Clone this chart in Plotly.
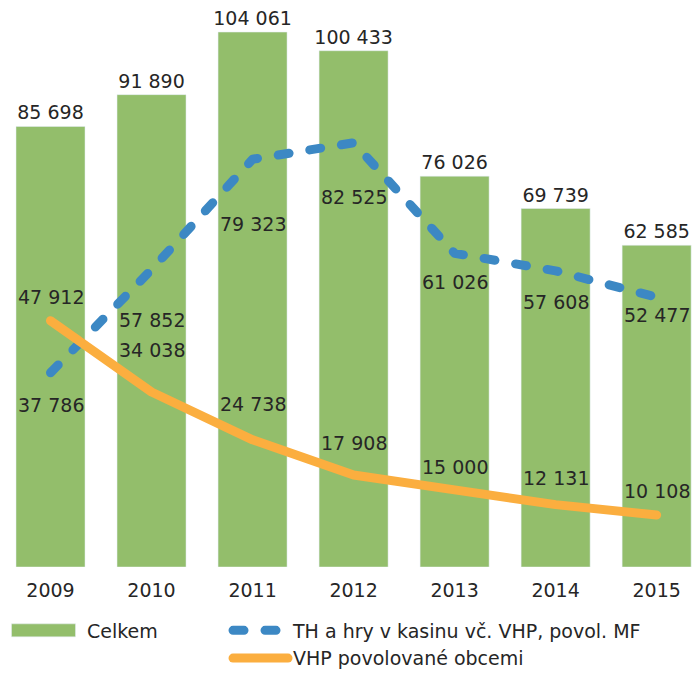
import plotly.graph_objects as go

years = ["2009", "2010", "2011", "2012", "2013", "2014", "2015"]
celkem = [85698, 91890, 104061, 100433, 76026, 69739, 62585]
th_kasino = [37786, 57852, 79323, 82525, 61026, 57608, 52477]
vhp_obce = [47912, 34038, 24738, 17908, 15000, 12131, 10108]

name_celkem = "Celkem"
name_th = "TH a hry v kasinu vč. VHP, povol. MF"
name_vhp = "VHP povolované obcemi"

# label pixel offsets (style)
th_shift = [-32, -50, -65, -54, -29, -31, -18]
vhp_shift = [24, 42, 36, 32, 23, 27, 24]

GREEN = "#93BE6B"
BLUE = "#3C88C4"
ORANGE = "#FBAE3F"
TXT = "#262626"
FONT = "DejaVu Sans"

def fmt(v):
    return f"{v:,}".replace(",", " ")

fig = go.Figure()
fig.add_trace(go.Bar(
    x=years, y=celkem, name=name_celkem, marker_color=GREEN,
    text=[fmt(v) for v in celkem], textposition="outside",
    textfont=dict(family=FONT, size=19, color=TXT),
    constraintext="none", cliponaxis=False, legend="legend",
))
fig.add_trace(go.Scatter(
    x=years, y=th_kasino, name=name_th, mode="lines",
    line=dict(color=BLUE, width=9, dash="11px,21px"), legend="legend2",
))
fig.add_trace(go.Scatter(
    x=years, y=vhp_obce, name=name_vhp, mode="lines",
    line=dict(color=ORANGE, width=9), legend="legend2",
))

annotations = []
for i, (v, s) in enumerate(zip(th_kasino, th_shift)):
    annotations.append(dict(x=i, y=v, yshift=s, text=fmt(v), showarrow=False,
                            font=dict(family=FONT, size=19, color=TXT)))
for i, (v, s) in enumerate(zip(vhp_obce, vhp_shift)):
    annotations.append(dict(x=i, y=v, yshift=s, text=fmt(v), showarrow=False,
                            font=dict(family=FONT, size=19, color=TXT)))

fig.update_layout(
    width=692, height=674,
    margin=dict(l=0, r=0, t=0, b=107, pad=0, autoexpand=False),
    paper_bgcolor="white", plot_bgcolor="white",
    bargap=0.317,
    font=dict(family=FONT, size=19, color=TXT),
    xaxis=dict(type="category", range=[-0.5, 6.35], showgrid=False, zeroline=False,
               showline=False, ticks="outside", ticklen=6, tickcolor="rgba(0,0,0,0)",
               tickfont=dict(family=FONT, size=19, color=TXT)),
    yaxis=dict(range=[0, 110300], visible=False),
    annotations=annotations,
    legend=dict(x=0.0, xanchor="left", y=-0.0785, yanchor="top", orientation="h",
                itemwidth=77,
                font=dict(family=FONT, size=19, color=TXT), bgcolor="rgba(0,0,0,0)"),
    legend2=dict(x=0.3295, xanchor="left", y=-0.0785, yanchor="top", orientation="v",
                 itemwidth=55, tracegroupgap=0,
                 font=dict(family=FONT, size=19, color=TXT), bgcolor="rgba(0,0,0,0)"),
    showlegend=True,
)

post = """
document.body.style.margin='0';
var gd = document.getElementById('{plot_id}');
function fixStyle(){
  gd.querySelectorAll('.scatterlayer .js-line, .legendlines path').forEach(function(p){
    p.style.strokeLinecap='round'; p.style.strokeLinejoin='round';
  });
  gd.querySelectorAll('.legendpoints path').forEach(function(p){
    if (p.getAttribute('d') === 'M6,6H-6V-6H6Z') {
      p.setAttribute('d','M-32,6.5H32V-6.5H-32Z');
    }
  });
}
fixStyle();
if (gd.on) { gd.on('plotly_afterplot', fixStyle); }
setTimeout(fixStyle, 50);
setTimeout(fixStyle, 300);
"""
fig.write_html("out.html", post_script=post, config={"displayModeBar": False})
